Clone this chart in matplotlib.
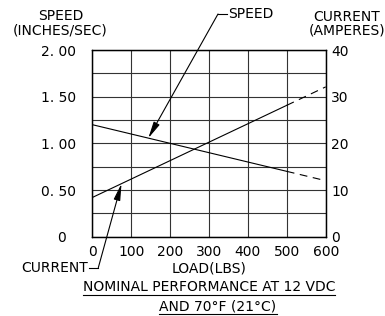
import numpy as np
import matplotlib
matplotlib.use("Agg")
import matplotlib.pyplot as plt

# datos
carga = [0, 500, 600]                 # LOAD (LBS)
velocidad = [1.20, 0.70, 0.60]        # SPEED (INCHES/SEC)
corriente = [8.4, 28.15, 32.1]        # CURRENT (AMPERES)

ticks_vel = [0, 0.5, 1.0, 1.5, 2.0]
etiq_vel = ['0  ', '0. 50', '1. 00', '1. 50', '2. 00']
ticks_cor = [0, 10, 20, 30, 40]
ticks_carga = [0, 100, 200, 300, 400, 500, 600]

W, H = 385, 316
FS = 10
plt.rcParams['font.family'] = ['DejaVu Sans']
fig = plt.figure(figsize=(W / 100, H / 100), dpi=100)

def fx(px):
    return px / W

def fy(py):
    return 1 - py / H

ax = fig.add_axes([fx(92.3), fy(236.7), fx(325.7) - fx(92.3), fy(50) - fy(236.7)])
ax2 = ax.twinx()

ax.set_xlim(0, 600)
ax.set_ylim(0, 2)
ax2.set_ylim(0, 40)

ax.set_xticks(ticks_carga)
ax.set_yticks(ticks_vel)
ax.set_yticklabels(etiq_vel)
ax.set_yticks(np.arange(0.25, 2.0, 0.5), minor=True)
ax2.set_yticks(ticks_cor)

ax.grid(True, which='both', color='#333333', lw=0.8)
ax.tick_params(which='both', length=0, labelsize=FS)
ax.tick_params(axis='y', pad=12)
ax.tick_params(axis='x', pad=6)
ax2.tick_params(length=0, labelsize=FS, pad=4)
for a in (ax, ax2):
    for s in a.spines.values():
        s.set_linewidth(0.9)
        s.set_color('black')

# lineas: solidas hasta 500 lbs, discontinuas despues
ax.plot(carga[:2], velocidad[:2], color='black', lw=0.8)
ax.plot(carga[1:], velocidad[1:], color='black', lw=0.8, dashes=(7, 5))
ax2.plot(carga[:2], corriente[:2], color='black', lw=0.8)
ax2.plot(carga[1:], corriente[1:], color='black', lw=0.8, dashes=(7, 5))

flecha = dict(arrowstyle='-|>,head_length=1.0,head_width=0.2', color='black', lw=0.8,
              shrinkA=0, shrinkB=0)

# flecha SPEED
x_s = 144
ax.annotate('', xy=(x_s, np.interp(x_s, carga, velocidad)), xycoords='data',
            xytext=(fx(218), fy(14)), textcoords='figure fraction', arrowprops=flecha)
fig.add_artist(plt.Line2D([fx(218), fx(227)], [fy(14), fy(14)], color='black', lw=0.8))
fig.text(fx(228), fy(14), 'SPEED', fontsize=FS, va='center', ha='left')

# flecha CURRENT
x_c = 75
ax2.annotate('', xy=(x_c, np.interp(x_c, carga, corriente)), xycoords='data',
             xytext=(fx(98.3), fy(267.7)), textcoords='figure fraction', arrowprops=flecha)
fig.add_artist(plt.Line2D([fx(89), fx(98.3)], [fy(267.7), fy(267.7)], color='black', lw=0.8))
fig.text(fx(88), fy(267.7), 'CURRENT', fontsize=FS, va='center', ha='right')

# titulos de los ejes
fig.text(fx(61), fy(16), 'SPEED', fontsize=FS, ha='center', va='center')
fig.text(fx(60), fy(31), '(INCHES/SEC)', fontsize=FS, ha='center', va='center')
fig.text(fx(347), fy(17), 'CURRENT', fontsize=FS, ha='center', va='center')
fig.text(fx(347), fy(31), '(AMPERES)', fontsize=FS, ha='center', va='center')
fig.text(fx(209), fy(269), 'LOAD(LBS)', fontsize=FS, ha='center', va='center')

t1 = fig.text(fx(209), fy(287), 'NOMINAL PERFORMANCE AT 12 VDC', fontsize=FS, ha='center', va='center')
t2 = fig.text(fx(218), fy(306), 'AND 70°F (21°C)', fontsize=FS, ha='center', va='center')

# subrayado de los titulos
fig.canvas.draw()
r = fig.canvas.get_renderer()
for t in (t1, t2):
    bb = t.get_window_extent(r)
    yb = bb.y0 - 1
    fig.add_artist(plt.Line2D([bb.x0 / W, bb.x1 / W], [yb / H, yb / H], color='black', lw=0.8))

fig.savefig('out.png', dpi=100)
